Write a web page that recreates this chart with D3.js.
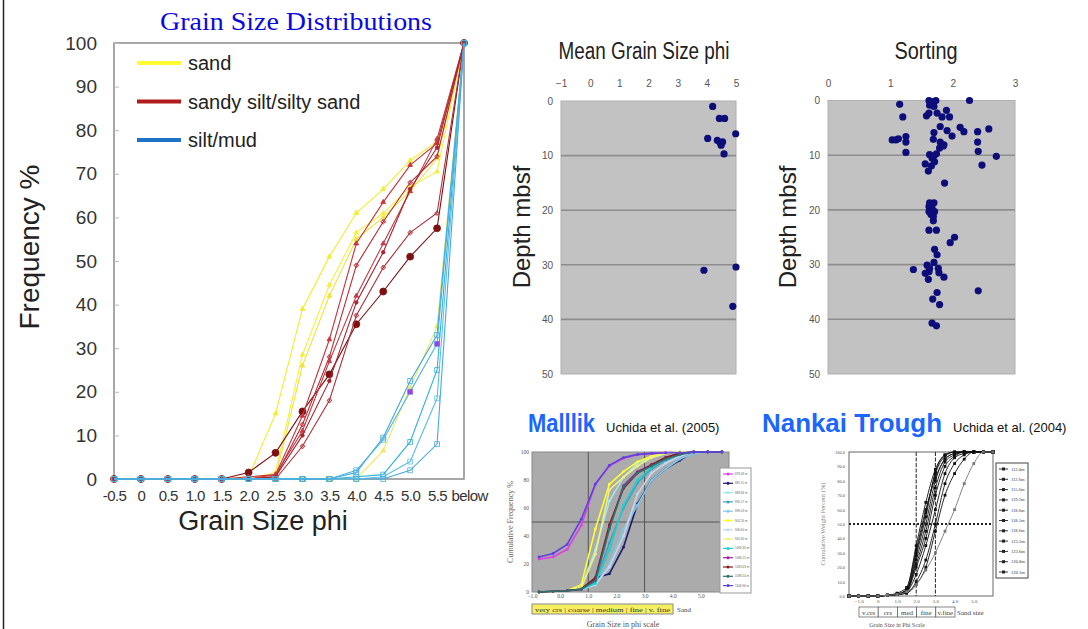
<!DOCTYPE html>
<html>
<head>
<meta charset="utf-8">
<script src="https://cdn.jsdelivr.net/npm/d3@7"></script>
<style>
body { margin: 0; background: #fff; }
svg text { font-family: "Liberation Sans", Arial, sans-serif; }
.axis path { display: none; }
</style>
</head>
<body>
<div id="chart"></div>
<script>
// ---- main grain size distribution chart
const phiCats = ["-0.5","0","0.5","1.0","1.5","2.0","2.5","3.0","3.5","4.0","4.5","5.0","5.5","below"]
const freqTicks = [0,10,20,30,40,50,60,70,80,90,100]
const legendNames = ["sand", "sandy silt/silty sand", "silt/mud"]

const sandSeries = [
  [0,0,0,0,0,0.5,15,39,51,61,66.5,73,77.5,100],
  [0,0,0,0,0,0,1.5,28.5,44.5,56.5,61,67,70.5,100],
  [0,0,0,0,0,0,0.5,26,42,55,60,66,73.5,100],
  [0,0,0,0,0,0,0,0,0,0,6.5,21,35,100]
]
const mixedSeries = [
  [0,0,0,0,0,1.5,6,15.5,24,35.5,43,51,57.5,100],
  [0,0,0,0,0,0.5,1,14.5,32,54,63.5,72,77,100],
  [0,0,0,0,0,0,0.5,12.5,28,49,59,68,74,100],
  [0,0,0,0,0,0,1,11,27,42,54,66,78,100],
  [0,0,0,0,0,0,0.5,10,22.5,40.5,52,66.5,76,100],
  [0,0,0,0,0,0,0,7.5,18,37.5,48.5,56.5,61,100]
]
const mudSeries = [
  [0,0,0,0,0,0,0,0,0,1.5,9.5,22.5,33,100],
  [0,0,0,0,0,0,0,0,0,2,9,20,31,100],
  [0,0,0,0,0,0,0,0,0,0.5,1,8.5,25,100],
  [0,0,0,0,0,0,0,0,0,0,0.5,4,18.5,100],
  [0,0,0,0,0,0,0,0,0,0,0,2,8,100]
]

// ---- mean grain size vs depth
const meanPhiTicks = [-1,0,1,2,3,4,5]
const depthTicks = [0,10,20,30,40,50]
const meanPhi   = [4.2,4.43,4.61,4.99,4.03,4.36,4.46,4.54,4.49,4.59,3.9,5.0,4.89]
const meanDepth = [1,3.2,3.2,6,6.85,7.2,7.65,7.5,8.1,9.7,31,30.4,37.6]

// ---- sorting vs depth
const sortTicks = [0,1,2,3]
const sortVal = [1.15,1.2,1.62,1.66,1.73,1.69,1.63,1.7,2.27,1.58,1.62,1.75,1.9,1.95,1.83,1.8,1.91,1.7,1.99,2.12,2.18,2.4,2.58,2.4,2.41,2.7,2.47,
  1.03,1.09,1.13,1.25,1.25,1.25,1.69,1.8,1.85,1.79,1.86,1.63,1.7,1.74,1.67,1.71,1.56,1.66,1.61,1.87,
  1.63,1.7,1.62,1.67,1.62,1.71,1.65,1.69,1.69,1.62,1.74,2.03,1.96,1.71,1.75,1.7,1.37,1.59,1.63,1.56,1.62,1.77,1.78,1.61,1.86,1.75,2.41,1.68,1.79,1.67,1.74]
const sortDepth = [0.7,3,0,0.2,0,0.6,0.85,1.1,0,2.8,2.3,2.3,1.8,3,3,4.75,5.5,5.85,6.5,4.9,5.7,5.7,5.2,7.6,9.3,10.2,11.8,
  7.2,7.2,7,6.6,7.6,9.5,7.1,7.6,8.3,8.7,8.1,9.9,10.1,9.75,10.55,11.2,11.6,11.95,12.9,15.1,
  18.7,18.7,19.4,19.7,20.3,20.3,20.8,21.2,22,23.7,23.7,25,26,27.2,28.2,29.6,30.9,30.1,30.7,31.6,31.3,30.7,31.5,32.7,32.3,35.1,34.8,36.3,37.3,40.7,41.2]

// ---- Malllik inset (Uchida et al. 2005)
const mkPhi = [-0.75,-0.25,0.25,0.75,1.25,1.75,2.25,2.75,3.25,3.75,4.25,4.75,5.25,5.75]
const mkTicksX = [-1,0,1,2,3,4,5]
const mkTicksY = [0,20,40,60,80,100]
const mkLabels = ["879.49 m","885.11 m","889.84 m","895.17 m","899.03 m","901.26 m","906.60 m","910.30 m","1069.35 m","1086.21 m","1093.43 m","1098.54 m","1106.96 m"]
const mkColors = ["#e040e0","#1a1a70","#a0e8f0","#40a0c0","#80c8e8","#ffff30","#c0d8f0","#f0f080","#20d0d0","#a020a0","#8b1a1a","#307070","#6040e0"]
const mkCurves = [
  [23.5,25,30.5,47.5,77,90,95.5,98,99,99.5,100,100,100,100],
  [0,0.5,1,2,10,13,32,63,80,88,94,100,100,100],
  [0,0.5,1,3,30,65,82,92,96,99,100,100,100,100],
  [0,0.5,1,2,7,35,60,78,88,94,98,100,100,100],
  [0,0.5,1,2,5,20,45,62,80,88,95,99,100,100],
  [0,0.5,1,5,45,77,86,93,97,99,100,100,100,100],
  [0,0.5,1,2,5,18,40,70,85,92,97,100,100,100],
  [0,0.5,1,3,27,73,82,90,96,99,100,100,100,100],
  [0,0.5,1,2,6,30,62,80,89,95,99,100,100,100],
  [0,0.5,1,2,9,46,76,86,91,96,99,100,100,100],
  [0,0.5,1,2,10,48,74,85,91,96,99,100,100,100],
  [0,0.5,1,2,8,45,75,85,90,95,98,100,100,100],
  [25,27.5,34,52,77,90.5,96,98.3,99,99.3,99.5,99.8,100,100]
]

// ---- Nankai Trough inset (Uchida et al. 2004)
const nkPhi = [-1.5,-1,-0.5,0,0.5,1,1.5,2,2.5,3,3.5,4,4.5,5,5.5,6]
const nkTicksX = [-1,0,1,2,3,4,5]
const nkTicksY = [0,10,20,30,40,50,60,70,80,90,100]
const nkLabels = ["112.0m","112.6m","115.6m","119.2m","118.6m","118.1m","118.6m","123.2m","123.6m","120.8m","120.1m"]
const nkCurves = [
  [0,0,0,0,0.5,1,3,25,50,80,95,99,100,100,100,100],
  [0,0,0,0,0.5,1.5,4,30,58,85,97,100,100,100,100,100],
  [0,0,0,0,0.5,1,5,35,65,88,98,100,100,100,100,100],
  [0,0,0,0,0.5,2,6,32,60,82,95,99,100,100,100,100],
  [0,0,0,0,0.5,1,4,22,45,75,93,98,100,100,100,100],
  [0,0,0,0,0.5,1,3,20,40,70,90,97,100,100,100,100],
  [0,0,0,0,0.5,1,3,15,35,60,85,96,99,100,100,100],
  [0,0,0,0,0.5,1,2,10,25,50,78,92,98,100,100,100],
  [0,0,0,0,0.5,1,2,8,20,45,70,85,95,100,100,100],
  [0,0,0,0,0.5,1,3,28,55,86,98,100,100,100,100,100],
  [0,0,0,0,0.5,1,3,8,18,30,45,60,78,92,100,100]
]

const svg = d3.select("#chart").append("svg")
  .attr("width", 1088)
  .attr("height", 629)

svg.append("line")
  .attr("x1", 3.5).attr("x2", 3.5).attr("y1", 0).attr("y2", 629)
  .attr("stroke", "#222").attr("stroke-width", 1.5)

// ================= main chart
let x = d3.scalePoint().domain(phiCats).range([114, 464])
let y = d3.scaleLinear().domain([0, 100]).range([479, 43])

svg.append("text")
  .attr("x", 296).attr("y", 30)
  .attr("text-anchor", "middle")
  .attr("textLength", 272).attr("lengthAdjust", "spacingAndGlyphs")
  .style("font-family", "'Liberation Serif', 'Times New Roman', serif")
  .style("font-size", "25px")
  .attr("fill", "#0a0ae0")
  .text("Grain Size Distributions")

svg.append("rect")
  .attr("x", 114).attr("y", 43)
  .attr("width", 350).attr("height", 436)
  .attr("fill", "#fff").attr("stroke", "#8a8a8a").attr("stroke-width", 1.5)

svg.append("g")
  .attr("class", "axis")
  .attr("transform", "translate(114,0)")
  .call(d3.axisLeft(y).tickValues(freqTicks).tickSizeInner(-5).tickSizeOuter(0).tickPadding(17))
  .call(g => g.selectAll("line").attr("stroke", "#bbb"))
  .call(g => g.selectAll("text").style("font-size", "19px").attr("fill", "#333"))

svg.append("g")
  .attr("class", "axis")
  .attr("transform", "translate(0,479)")
  .call(d3.axisBottom(x).tickSize(0).tickPadding(11))
  .call(g => g.selectAll("text").style("font-size", "15px").style("letter-spacing", "-0.6px").attr("fill", "#333"))
  .call(g => g.selectAll("text").filter(d => d === "below").attr("text-anchor", "start").attr("dx", -13))

svg.append("text")
  .attr("transform", "translate(39,247) rotate(-90)")
  .attr("text-anchor", "middle")
  .style("font-size", "28px")
  .attr("fill", "#222")
  .text("Frequency %")

svg.append("text")
  .attr("x", 263).attr("y", 530)
  .attr("text-anchor", "middle")
  .style("font-size", "27px")
  .attr("fill", "#222")
  .text("Grain Size phi")

const line = d3.line()
  .x((d, i) => x(phiCats[i]))
  .y(d => y(d))

function drawSeries(series, colors, symbol, symSize, filled) {
  const g = svg.append("g")
  series.forEach((s, k) => {
    g.append("path")
      .attr("d", line(s))
      .attr("fill", "none")
      .attr("stroke", colors[k % colors.length])
      .attr("stroke-width", 1.1)
    g.selectAll(null)
      .data(s)
      .enter()
      .append("path")
      .attr("transform", (d, i) => `translate(${x(phiCats[i])},${y(d)})`)
      .attr("d", d3.symbol().type(symbol[k % symbol.length]).size(symSize[k % symSize.length]))
      .attr("fill", filled[k % filled.length] ? colors[k % colors.length] : "none")
      .attr("stroke", colors[k % colors.length])
      .attr("stroke-width", 0.8)
  })
}

drawSeries(sandSeries, ["#f2ee2a", "#f5f03a", "#ece43a", "#f0e860"],
  [d3.symbolTriangle], [10], [true])
drawSeries(mixedSeries, ["#7d1010", "#c8343c", "#b82a30", "#c43a48", "#a82230", "#b0303a"],
  [d3.symbolCircle, d3.symbolTriangle, d3.symbolCross, d3.symbolTriangle, d3.symbolCircle, d3.symbolCross],
  [38, 10, 10, 10, 10, 10], [true, true, false, true, true, false])
drawSeries(mudSeries, ["#3aa8e0", "#4cb4e4", "#30b0dc", "#5cc0e8", "#48a8dc"],
  [d3.symbolSquare], [24], [false])

// overlay a few purple markers on mud series
svg.selectAll(null)
  .data([[11, 20], [12, 31]])
  .enter()
  .append("rect")
  .attr("x", d => x(phiCats[d[0]]) - 2.5)
  .attr("y", d => y(d[1]) - 2.5)
  .attr("width", 5).attr("height", 5)
  .attr("fill", "#a040e0")

const legend = svg.append("g")
  .selectAll(".legend")
  .data(legendNames)
  .enter()
  .append("g")
  .attr("transform", (d, i) => `translate(137,${63 + i * 38.5})`)

legend.append("line")
  .attr("x1", 0).attr("x2", 44)
  .attr("stroke", (d, i) => ["#ffff33", "#b01c1c", "#1f72c4"][i])
  .attr("stroke-width", 4)

legend.append("text")
  .attr("x", 51).attr("dy", "0.35em")
  .style("font-size", "20px")
  .attr("fill", "#222")
  .text(d => d)

// ================= scatter panels
function depthPanel(opts) {
  const px = d3.scaleLinear().domain(opts.xDomain).range(opts.xRange)
  const py = d3.scaleLinear().domain([0, 50]).range([opts.top, 374])
  const g = svg.append("g")

  g.append("rect")
    .attr("x", opts.xRange[0]).attr("y", opts.top)
    .attr("width", opts.xRange[1] - opts.xRange[0])
    .attr("height", 374 - opts.top)
    .attr("fill", "#c2c2c2").attr("stroke", "#b0b0b0")

  g.selectAll(".grid")
    .data([10, 20, 30, 40])
    .enter()
    .append("line")
    .attr("x1", opts.xRange[0]).attr("x2", opts.xRange[1])
    .attr("y1", d => py(d)).attr("y2", d => py(d))
    .attr("stroke", "#8e8e8e").attr("stroke-width", 1.6)

  g.append("g")
    .attr("class", "axis")
    .attr("transform", `translate(0,${opts.top})`)
    .call(d3.axisTop(px).tickValues(opts.xTicks).tickFormat(d3.format("d")).tickSize(0).tickPadding(14))
    .call(s => s.selectAll("text").style("font-size", "10px").attr("fill", "#555"))

  g.append("g")
    .attr("class", "axis")
    .attr("transform", `translate(${opts.xRange[0]},0)`)
    .call(d3.axisLeft(py).tickValues(depthTicks).tickSize(0).tickPadding(8))
    .call(s => s.selectAll("text").style("font-size", "10px").attr("fill", "#555"))

  g.selectAll(".dot")
    .data(opts.xs)
    .enter()
    .append("circle")
    .attr("cx", d => px(d))
    .attr("cy", (d, i) => py(opts.ys[i]))
    .attr("r", 3.6)
    .attr("fill", "#0d0d7a")

  g.append("text")
    .attr("x", opts.titleX).attr("y", 59)
    .attr("text-anchor", "middle")
    .attr("textLength", opts.titleW).attr("lengthAdjust", "spacingAndGlyphs")
    .style("font-size", "23px")
    .attr("fill", "#222")
    .text(opts.title)

  g.append("text")
    .attr("transform", `translate(${opts.labelX},227) rotate(-90)`)
    .attr("text-anchor", "middle")
    .style("font-size", "24px")
    .attr("fill", "#222")
    .text("Depth mbsf")
}

depthPanel({
  xDomain: [-1, 5], xRange: [561, 736], top: 101, xTicks: meanPhiTicks,
  xs: meanPhi, ys: meanDepth,
  title: "Mean Grain Size phi", titleX: 644, titleW: 171, labelX: 530
})
depthPanel({
  xDomain: [0, 3], xRange: [828, 1015], top: 100.5, xTicks: sortTicks,
  xs: sortVal, ys: sortDepth,
  title: "Sorting", titleX: 926, titleW: 63, labelX: 796
})

// ================= Malllik inset
svg.append("text")
  .attr("x", 528).attr("y", 432)
  .attr("textLength", 67).attr("lengthAdjust", "spacingAndGlyphs")
  .style("font-size", "25px").style("font-weight", "bold")
  .attr("fill", "#1a66ff")
  .text("Malllik")
svg.append("text")
  .attr("x", 606).attr("y", 432)
  .style("font-size", "13px").attr("fill", "#111")
  .text("Uchida et al. (2005)")

let mx = d3.scaleLinear().domain([-1, 6]).range([532, 729])
let my = d3.scaleLinear().domain([0, 100]).range([592, 452])
const mk = svg.append("g")

mk.append("rect")
  .attr("x", 532).attr("y", 452).attr("width", 197).attr("height", 140)
  .attr("fill", "#ababab").attr("stroke", "#888")

mk.selectAll(".vl")
  .data([1, 3])
  .enter()
  .append("line")
  .attr("x1", d => mx(d)).attr("x2", d => mx(d))
  .attr("y1", 452).attr("y2", 592)
  .attr("stroke", "#555")
mk.append("line")
  .attr("x1", 532).attr("x2", 729)
  .attr("y1", my(50)).attr("y2", my(50))
  .attr("stroke", "#555")

const mkLine = d3.line().x((d, i) => mx(mkPhi[i])).y(d => my(d))
mkCurves.forEach((c, k) => {
  mk.append("path")
    .attr("d", mkLine(c))
    .attr("fill", "none")
    .attr("stroke", mkColors[k])
    .attr("stroke-width", 1.6)
  mk.selectAll(null)
    .data(c)
    .enter()
    .append("circle")
    .attr("cx", (d, i) => mx(mkPhi[i]))
    .attr("cy", d => my(d))
    .attr("r", 1.4)
    .attr("fill", mkColors[k])
})

mk.append("g")
  .attr("class", "axis")
  .attr("transform", "translate(532,0)")
  .call(d3.axisLeft(my).tickValues(mkTicksY).tickSize(0).tickPadding(3))
  .call(s => s.selectAll("text").style("font-size", "5.5px").style("font-family", "'Liberation Serif', serif").attr("fill", "#555"))
mk.append("g")
  .attr("class", "axis")
  .attr("transform", "translate(0,592)")
  .call(d3.axisBottom(mx).tickValues(mkTicksX).tickFormat(d3.format(".1f")).tickSize(0).tickPadding(2))
  .call(s => s.selectAll("text").style("font-size", "5.5px").style("font-family", "'Liberation Serif', serif").attr("fill", "#555"))

const mkLeg = mk.append("g").attr("transform", "translate(720,468)")
mkLeg.append("rect")
  .attr("width", 31).attr("height", 125)
  .attr("fill", "#fff").attr("stroke", "#999")
const mkItem = mkLeg.selectAll(".it")
  .data(mkLabels)
  .enter()
  .append("g")
  .attr("transform", (d, i) => `translate(3,${6 + i * 9.3})`)
mkItem.append("line")
  .attr("x1", 0).attr("x2", 10)
  .attr("stroke", (d, i) => mkColors[i]).attr("stroke-width", 1.2)
mkItem.append("circle")
  .attr("cx", 5).attr("r", 1.5)
  .attr("fill", (d, i) => mkColors[i])
mkItem.append("text")
  .attr("x", 12).attr("dy", "0.35em")
  .style("font-size", "3px").attr("fill", "#666")
  .text(d => d)

const sandBands = ["very crs", "coarse", "medium", "fine", "v. fine"]
mk.append("rect")
  .attr("x", 532).attr("y", 604).attr("width", 141).attr("height", 10)
  .attr("fill", "#f6f060").attr("stroke", "#888")
mk.append("text")
  .attr("x", 535).attr("y", 611.5)
  .attr("textLength", 135).attr("lengthAdjust", "spacingAndGlyphs")
  .style("font-size", "7px").style("font-family", "'Liberation Serif', serif")
  .attr("fill", "#333")
  .text(sandBands.join(" | "))
mk.append("text")
  .attr("x", 677).attr("y", 612)
  .style("font-size", "7px").style("font-family", "'Liberation Serif', serif")
  .attr("fill", "#444")
  .text("Sand")
mk.append("text")
  .attr("x", 623).attr("y", 627)
  .attr("text-anchor", "middle")
  .style("font-size", "8px").style("font-family", "'Liberation Serif', serif")
  .attr("fill", "#555")
  .text("Grain Size in phi scale")
mk.append("text")
  .attr("transform", "translate(513,522) rotate(-90)")
  .attr("text-anchor", "middle")
  .style("font-size", "8px").style("font-family", "'Liberation Serif', serif")
  .attr("fill", "#666")
  .text("Cumulative Frequency %")

// ================= Nankai inset
svg.append("text")
  .attr("x", 762).attr("y", 432)
  .attr("textLength", 180).attr("lengthAdjust", "spacingAndGlyphs")
  .style("font-size", "25px").style("font-weight", "bold")
  .attr("fill", "#1a66ff")
  .text("Nankai Trough")
svg.append("text")
  .attr("x", 953).attr("y", 432)
  .style("font-size", "13px").attr("fill", "#111")
  .text("Uchida et al. (2004)")

let nx = d3.scaleLinear().domain([-1.5, 6]).range([849, 993])
let ny = d3.scaleLinear().domain([0, 100]).range([596, 452])
const nk = svg.append("g")

nk.append("rect")
  .attr("x", 849).attr("y", 452).attr("width", 144).attr("height", 144)
  .attr("fill", "#fff").attr("stroke", "#666")

nk.selectAll(".vl")
  .data([2, 3])
  .enter()
  .append("line")
  .attr("x1", d => nx(d)).attr("x2", d => nx(d))
  .attr("y1", 452).attr("y2", 596)
  .attr("stroke", "#222").attr("stroke-dasharray", "4,1.5")
nk.append("line")
  .attr("x1", 849).attr("x2", 993)
  .attr("y1", ny(50)).attr("y2", ny(50))
  .attr("stroke", "#222").attr("stroke-width", 1.8).attr("stroke-dasharray", "2,2")

const nkLine = d3.line().curve(d3.curveMonotoneX).x((d, i) => nx(nkPhi[i])).y(d => ny(d))
nkCurves.forEach((c, k) => {
  const col = k === nkCurves.length - 1 ? "#777" : "#111"
  nk.append("path")
    .attr("d", nkLine(c))
    .attr("fill", "none")
    .attr("stroke", col)
    .attr("stroke-width", 0.9)
  nk.selectAll(null)
    .data(c)
    .enter()
    .append("rect")
    .attr("x", (d, i) => nx(nkPhi[i]) - 1.4)
    .attr("y", d => ny(d) - 1.4)
    .attr("width", 2.8).attr("height", 2.8)
    .attr("fill", col)
})

nk.append("g")
  .attr("class", "axis")
  .attr("transform", "translate(849,0)")
  .call(d3.axisLeft(ny).tickValues(nkTicksY).tickFormat(d3.format(".1f")).tickSize(0).tickPadding(4))
  .call(s => s.selectAll("text").style("font-size", "4.5px").style("font-family", "'Liberation Serif', serif").attr("fill", "#555"))
nk.append("g")
  .attr("class", "axis")
  .attr("transform", "translate(0,596)")
  .call(d3.axisBottom(nx).tickValues(nkTicksX).tickFormat(d => d === 0 ? "0" : d3.format(".1f")(d)).tickSize(0).tickPadding(3))
  .call(s => s.selectAll("text").style("font-size", "5px").style("font-family", "'Liberation Serif', serif").attr("fill", "#555"))

const nkLeg = nk.append("g").attr("transform", "translate(996,463)")
nkLeg.append("rect")
  .attr("width", 32).attr("height", 115)
  .attr("fill", "#fff").attr("stroke", "#444")
const nkItem = nkLeg.selectAll(".it")
  .data(nkLabels)
  .enter()
  .append("g")
  .attr("transform", (d, i) => `translate(3,${6 + i * 10.3})`)
nkItem.append("line")
  .attr("x1", 0).attr("x2", 9)
  .attr("stroke", "#222").attr("stroke-width", 0.9)
nkItem.append("rect")
  .attr("x", 3).attr("y", -1.5).attr("width", 3).attr("height", 3)
  .attr("fill", "#222")
nkItem.append("text")
  .attr("x", 12).attr("dy", "0.35em")
  .style("font-size", "4.5px").style("font-family", "'Liberation Serif', serif")
  .attr("fill", "#333")
  .text(d => d)

const nkBands = ["v.crs", "crs", "med", "fine", "v.fine"]
const nkBand = d3.scaleBand().domain(nkBands).range([859, 955])
nk.selectAll(".band")
  .data(nkBands)
  .enter()
  .append("rect")
  .attr("x", d => nkBand(d)).attr("y", 607)
  .attr("width", nkBand.bandwidth()).attr("height", 10)
  .attr("fill", "#fff").attr("stroke", "#555").attr("stroke-width", 0.7)
nk.selectAll(".bandtxt")
  .data(nkBands)
  .enter()
  .append("text")
  .attr("x", d => nkBand(d) + nkBand.bandwidth() / 2).attr("y", 615)
  .attr("text-anchor", "middle")
  .style("font-size", "7px").style("font-family", "'Liberation Serif', serif")
  .attr("fill", "#444")
  .text(d => d)
nk.append("text")
  .attr("x", 957).attr("y", 615)
  .style("font-size", "7px").style("font-family", "'Liberation Serif', serif")
  .attr("fill", "#444")
  .text("Sand size")
nk.append("text")
  .attr("x", 897).attr("y", 627)
  .attr("text-anchor", "middle")
  .style("font-size", "6px").style("font-family", "'Liberation Serif', serif")
  .attr("fill", "#555")
  .text("Grain Size in Phi Scale")
nk.append("text")
  .attr("transform", "translate(825,524) rotate(-90)")
  .attr("text-anchor", "middle")
  .style("font-size", "6.5px").style("font-family", "'Liberation Serif', serif")
  .attr("fill", "#888")
  .text("Cumulative Weight Percent (%)")
</script>
</body>
</html>
